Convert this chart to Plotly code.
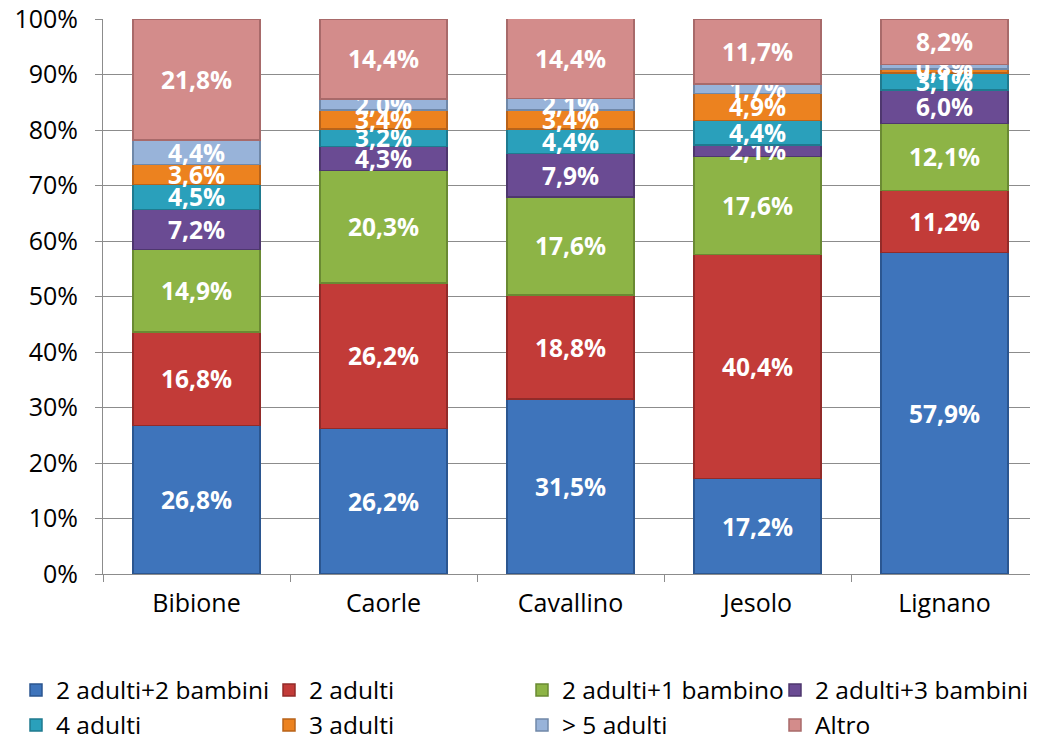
import plotly.graph_objects as go

categories = ["Bibione", "Caorle", "Cavallino", "Jesolo", "Lignano"]
series_names = ["2 adulti+2 bambini", "2 adulti", "2 adulti+1 bambino", "2 adulti+3 bambini",
                "4 adulti", "3 adulti", "> 5 adulti", "Altro"]
v_2a2b = [26.8, 26.2, 31.5, 17.2, 57.9]
v_2a = [16.8, 26.2, 18.8, 40.4, 11.2]
v_2a1b = [14.9, 20.3, 17.6, 17.6, 12.1]
v_2a3b = [7.2, 4.3, 7.9, 2.1, 6.0]
v_4a = [4.5, 3.2, 4.4, 4.4, 3.1]
v_3a = [3.6, 3.4, 3.4, 4.9, 0.7]
v_5a = [4.4, 2.0, 2.1, 1.7, 0.8]
v_altro = [21.8, 14.4, 14.4, 11.7, 8.2]
series_values = [v_2a2b, v_2a, v_2a1b, v_2a3b, v_4a, v_3a, v_5a, v_altro]
y_ticks = [0, 10, 20, 30, 40, 50, 60, 70, 80, 90, 100]
y_tick_labels = [f"{t}%" for t in y_ticks]

colors = ["#3e74bb", "#c23b38", "#8db446", "#6a4b93", "#2aa0bb", "#ec821f", "#98b3d9", "#d38c8b"]
edges = ["#2b5690", "#922b29", "#6a8a33", "#4e376e", "#1f7a8f", "#b8631a", "#7088a8", "#a86a6a"]

FONT = "'Open Sans', sans-serif"
W, H = 1030, 731  # page body has an 8px margin

# legend grid: 4 columns x 2 rows (pixel positions of each entry, figure coords)
leg_cols = [8, 261, 514, 767]
leg_rows = [682, 717]

fig = go.Figure()
legends = {}
for i, (name, vals, c, e) in enumerate(zip(series_names, series_values, colors, edges)):
    key = "legend" if i == 0 else f"legend{i + 1}"
    col, row = i % 4, i // 4
    legends[key] = dict(
        orientation="h", xref="container", yref="container",
        x=leg_cols[col] / W, y=1 - leg_rows[row] / H,
        xanchor="left", yanchor="middle",
        font=dict(size=24.5, family=FONT, color="black"),
        itemwidth=30, bgcolor="rgba(0,0,0,0)")
    fig.add_trace(go.Bar(
        name=name, x=categories, y=vals, legend=key,
        marker=dict(color=c, line=dict(color=e, width=1.5)),
        text=[f"{v:.1f}%".replace(".", ",") for v in vals],
        textposition="inside", insidetextanchor="middle", constraintext="none",
        textfont=dict(color="white", size=24.5, family=FONT, weight="bold"),
        textangle=0,
    ))

fig.update_layout(
    barmode="stack", bargap=0.32,
    width=W, height=H,
    margin=dict(l=95, r=0, t=11, b=165, autoexpand=False),
    plot_bgcolor="white", paper_bgcolor="white",
    font=dict(family=FONT, size=25, color="black"),
    showlegend=True,
    **legends,
)
fig.update_yaxes(range=[0, 100], tickvals=y_ticks, ticktext=y_tick_labels,
                 showgrid=True, gridcolor="#8c8c8c", gridwidth=1,
                 showline=True, linecolor="#8c8c8c", ticks="outside", ticklen=7,
                 tickcolor="#8c8c8c", zeroline=False, tickfont=dict(size=25),
                 ticklabelstandoff=12, ticklabeloverflow="allow")
fig.update_xaxes(showline=True, linecolor="#8c8c8c", ticks="outside", ticklen=7,
                 tickcolor="#8c8c8c", tickson="boundaries", tickfont=dict(size=25),
                 ticklabelstandoff=7)

fig.write_html("out.html")
